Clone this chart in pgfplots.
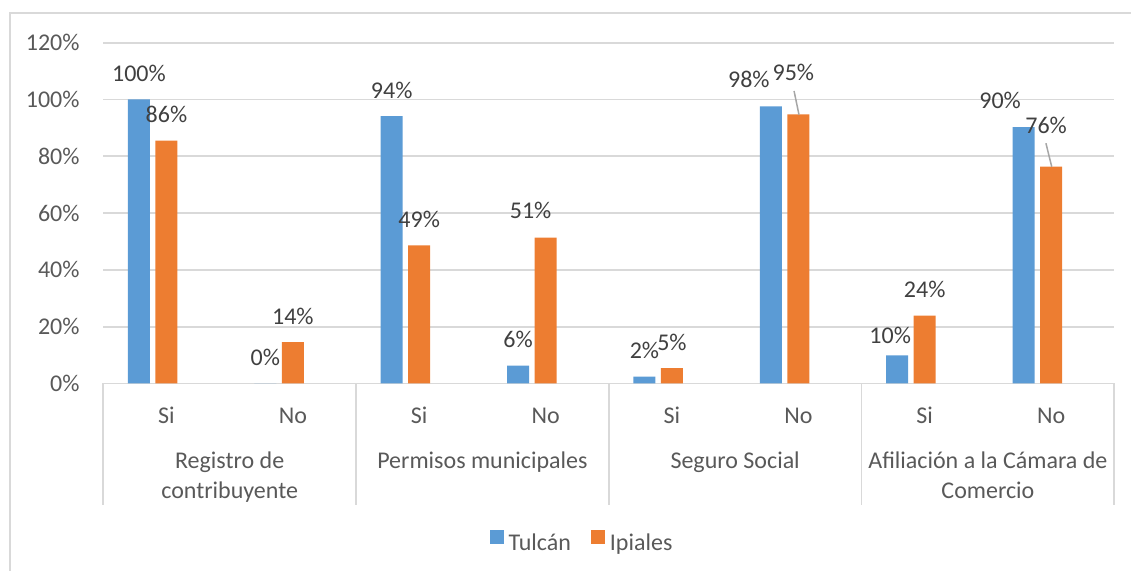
\documentclass[border=0pt]{standalone}
\usepackage{pgfplots}
\usepackage{pgfplotstable}
\pgfplotsset{compat=1.18}
\usepackage{fontspec}
\setmainfont{Carlito}
\newcommand\cf{\fontsize{12pt}{14.5pt}\selectfont}
\definecolor{tblue}{HTML}{5B9BD5}
\definecolor{torange}{HTML}{ED7D31}
\definecolor{gridgray}{HTML}{D9D9D9}
\definecolor{textgray}{HTML}{595959}
\definecolor{labelgray}{HTML}{404040}
\definecolor{leader}{HTML}{A6A6A6}

\pgfplotstableread{
x y
0.2824 100
1.2824 0
2.2824 94.1
3.2824 6.3
4.2824 2.4
5.2824 97.6
6.2824 9.9
7.2824 90.3
}\tulcan
\pgfplotstableread{
x y
0.5 85.5
1.5 14.6
2.5 48.6
3.5 51.4
4.5 5.4
5.5 94.8
6.5 23.9
7.5 76.4
}\ipiales

\pgfplotsset{lbl/.style 2 args={draw=none, mark=none, forget plot,
  point meta=explicit symbolic,
  nodes near coords={\pgfplotspointmeta\%},
  every node near coord/.append style={anchor=center, inner sep=0pt, font=\cf, text=labelgray,
    xshift=#1*0.5pt, yshift=#2*0.5pt}}}

\begin{document}
\begin{tikzpicture}
\begin{axis}[
  at={(0,0)}, anchor=south west,
  scale only axis, width=505.5pt, height=170.4pt,
  xmin=0, xmax=8, ymin=0, ymax=120,
  clip=false,
  axis line style={draw=none},
  major tick length=0pt,
  ymajorgrids, grid style={gridgray, line width=0.85pt},
  ytick={0,20,40,60,80,100,120},
  yticklabels={0\%,20\%,40\%,60\%,80\%,100\%,120\%},
  yticklabel style={anchor=east, inner sep=0pt, xshift=-11.7pt, font=\cf, text=textgray},
  xtick={0.5,1.5,2.5,3.5,4.5,5.5,6.5,7.5},
  xticklabels={Si,No,Si,No,Si,No,Si,No},
  xticklabel style={anchor=base, inner sep=0pt, yshift=-20pt, font=\cf, text=textgray},
  /pgf/number format/assume math mode=true,
  legend style={draw=none, fill=none, at={(axis description cs:0.4725,-0.4636)}, anchor=center,
    legend columns=-1, font=\cf, text=textgray, nodes={inner sep=0pt},
    /tikz/every odd column/.append style={column sep=2.5pt},
    /tikz/every even column/.append style={column sep=10pt}},
  legend cell align=left,
]
\addplot[ybar, bar width=11pt, bar shift=0pt, fill=tblue, draw=none,
  legend image code/.code={\fill[tblue] (0pt,-0.2pt) rectangle (7pt,6.8pt);}]
  table[x=x,y=y]{\tulcan};
\addlegendentry{Tulcán}
\addplot[ybar, bar width=11pt, bar shift=0pt, fill=torange, draw=none,
  legend image code/.code={\fill[torange] (0pt,-0.2pt) rectangle (7pt,6.8pt);}]
  table[x=x,y=y]{\ipiales};
\addlegendentry{Ipiales}

% data labels at their default place above the bars
\addplot[lbl={0}{25.8}] coordinates {
  (0.2824,100) [100] (1.2824,0) [0] (2.2824,94.1) [94] (3.2824,6.3) [6] (4.2824,2.4) [2]
  (0.5,85.5) [86] (1.5,14.6) [14] (2.5,48.6) [49] (4.5,5.4) [5] (6.5,23.9) [24]};
% data labels that were moved
\addplot[lbl={-22}{26.7}] coordinates {(5.2824,97.6) [98]};
\addplot[lbl={-7}{20.3}] coordinates {(6.2824,9.9) [10]};
\addplot[lbl={-23.5}{26.3}] coordinates {(7.2824,90.3) [90]};
\addplot[lbl={-15}{27}] coordinates {(3.5,51.4) [51]};
\addplot[lbl={-5}{41.7}] coordinates {(5.5,94.8) [95]};
\addplot[lbl={-5}{40.7}] coordinates {(7.5,76.4) [76]};

\draw[leader, line width=0.75pt] (axis cs:5.466,103) -- (axis cs:5.505,94.65);
\draw[leader, line width=0.75pt] (axis cs:7.459,84.6) -- (axis cs:7.505,76.3);

\draw[gridgray, line width=0.85pt] (axis cs:0,0) -- ([yshift=-61pt]axis cs:0,0);
\draw[gridgray, line width=0.85pt] (axis cs:2,0) -- ([yshift=-61pt]axis cs:2,0);
\draw[gridgray, line width=0.85pt] (axis cs:4,0) -- ([yshift=-61pt]axis cs:4,0);
\draw[gridgray, line width=0.85pt] (axis cs:6,0) -- ([yshift=-61pt]axis cs:6,0);
\draw[gridgray, line width=0.85pt] (axis cs:8,0) -- ([yshift=-61pt]axis cs:8,0);
\node[anchor=base, font=\cf, text=textgray] at ([yshift=-42.5pt]axis cs:1,0) {Registro de};
\node[anchor=base, font=\cf, text=textgray] at ([yshift=-57.4pt]axis cs:1,0) {contribuyente};
\node[anchor=base, font=\cf, text=textgray] at ([yshift=-42.5pt]axis cs:3,0) {Permisos municipales};
\node[anchor=base, font=\cf, text=textgray] at ([yshift=-42.5pt]axis cs:5,0) {Seguro Social};
\node[anchor=base, font=\cf, text=textgray] at ([yshift=-42.5pt]axis cs:7,0) {Afiliación a la Cámara de};
\node[anchor=base, font=\cf, text=textgray] at ([yshift=-57.4pt]axis cs:7,0) {Comercio};
\end{axis}
\draw[gridgray, line width=0.85pt] (-46.65pt,-93.75pt) -- (-46.65pt,185.25pt) -- (513.85pt,185.25pt);
\pgfresetboundingbox
\path[use as bounding box] (-51.65pt,-93.75pt) rectangle (513.85pt,191.75pt);
\end{tikzpicture}
\end{document}
